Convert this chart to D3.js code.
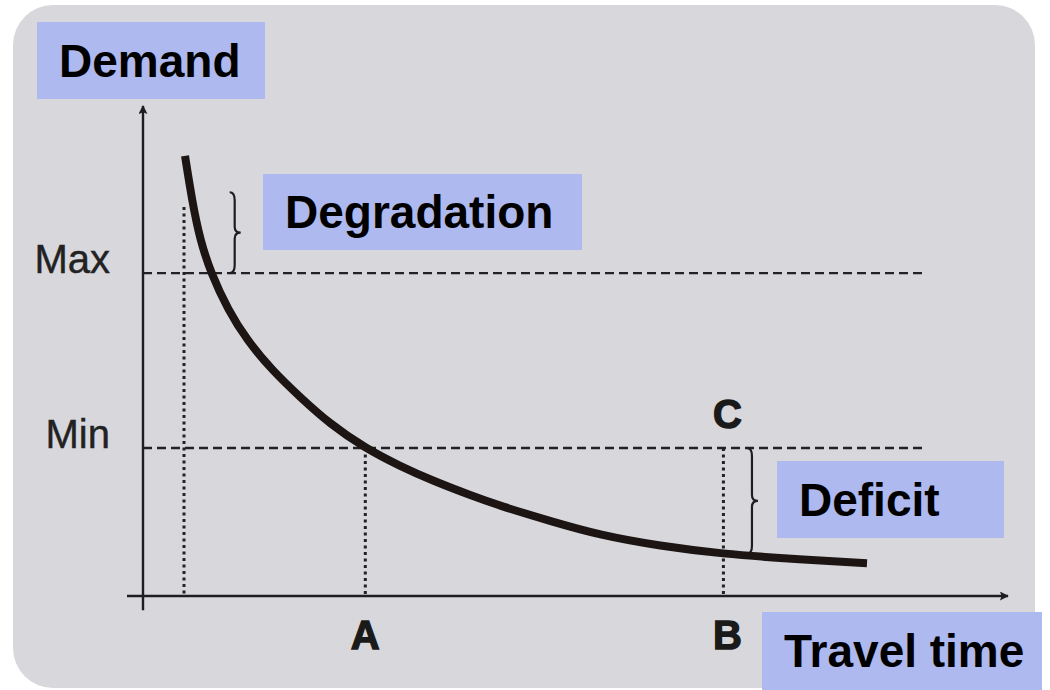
<!DOCTYPE html>
<html>
<head>
<meta charset="utf-8">
<script src="https://cdn.jsdelivr.net/npm/d3@7"></script>
<style>
  html, body { margin: 0; padding: 0; background: #ffffff; }
  svg { display: block; }
</style>
</head>
<body>
<svg id="chart" width="1050" height="690"></svg>
<script>
// ---- data (x: travel time units 0..100, y: demand units 0..100) ----
const curveX = [4.86, 5.66, 6.59, 7.86, 9.83, 12.03, 14.91, 18.15, 21.62, 25.66, 29.71, 33.53, 37.80, 41.27, 47.05, 52.83, 59.77, 66.94, 74.80, 83.70];
const curveY = [89.8, 80.8, 72.7, 65.9, 58.4, 52.2, 46.1, 40.6, 35.1, 30.2, 26.5, 23.5, 20.6, 18.4, 15.3, 12.4, 10.2, 8.6, 7.6, 6.7];
const levelNames = ["Max", "Min"];
const levelValues = [65.9, 30.2];
const pointNames = ["A", "B"];
const pointX = [25.7, 67.1];
const leftDottedX = 4.74;
const leftDottedTop = 79.4;
const dashEndX = 90.6;
const degradationBrace = [10.6, 82.4, 65.9];  // x, top, bottom
const deficitBrace = [70.4, 30.2, 8.6];       // x, top, bottom
const pointC = [67.1, 30.2];
const boxLabels = ["Demand", "Degradation", "Deficit", "Travel time"];

const svg = d3.select("#chart");

// background panel
svg.append("rect")
  .attr("x", 13).attr("y", 5).attr("width", 1022).attr("height", 683)
  .attr("rx", 40).attr("ry", 40)
  .attr("fill", "#d8d8dc");

const x = d3.scaleLinear().domain([0, 100]).range([143, 1008]);
const y = d3.scaleLinear().domain([0, 100]).range([596, 106]);

const ink = "#1e1e22";

// arrow markers
const defs = svg.append("defs");
defs.append("marker")
  .attr("id", "arrow").attr("viewBox", "0 0 10 10")
  .attr("refX", 9).attr("refY", 5)
  .attr("markerWidth", 14).attr("markerHeight", 9)
  .attr("markerUnits", "userSpaceOnUse")
  .attr("orient", "auto")
  .append("path").attr("d", "M0,0 L10,5 L0,10 L2,5 Z").attr("fill", ink);

// axes
svg.append("line")
  .attr("x1", x(-1.85)).attr("y1", y(0)).attr("x2", x(100)).attr("y2", y(0))
  .attr("stroke", ink).attr("stroke-width", 2.4)
  .attr("marker-end", "url(#arrow)");
svg.append("line")
  .attr("x1", x(0)).attr("y1", y(-2.9)).attr("x2", x(0)).attr("y2", y(100))
  .attr("stroke", ink).attr("stroke-width", 2.4)
  .attr("marker-end", "url(#arrow)");

// dashed horizontal level lines
levelValues.forEach((v, i) => {
  svg.append("line")
    .attr("x1", x(0)).attr("y1", y(v)).attr("x2", x(dashEndX)).attr("y2", y(v))
    .attr("stroke", "#222226").attr("stroke-width", 2.4)
    .attr("stroke-dasharray", "9,5");
  svg.append("text")
    .attr("x", 110).attr("y", y(v))
    .attr("text-anchor", "end")
    .attr("font-family", "Liberation Sans, Arial, sans-serif")
    .attr("font-size", 40)
    .attr("fill", "#222")
    .attr("stroke", "#222").attr("stroke-width", 0.4)
    .text(levelNames[i]);
});

// dotted verticals
const dotted = (xv, top) => svg.append("line")
  .attr("x1", x(xv)).attr("y1", y(top)).attr("x2", x(xv)).attr("y2", y(0))
  .attr("stroke", "#222226").attr("stroke-width", 3)
  .attr("stroke-dasharray", "3,3.5");
dotted(leftDottedX, leftDottedTop);
pointX.forEach(px => dotted(px, levelValues[1]));

// point labels A, B
pointX.forEach((px, i) => {
  svg.append("text")
    .attr("x", x(px) + (i === 1 ? 4 : 0)).attr("y", 649)
    .attr("text-anchor", "middle")
    .attr("font-family", "Liberation Sans, Arial, sans-serif")
    .attr("font-weight", 900)
    .attr("font-size", 40)
    .attr("fill", "#1a1a1a")
    .attr("stroke", "#1a1a1a").attr("stroke-width", 1.4)
    .text(pointNames[i]);
});
svg.append("text")
  .attr("x", x(pointC[0]) + 4).attr("y", y(pointC[1]) - 20)
  .attr("text-anchor", "middle")
  .attr("font-family", "Liberation Sans, Arial, sans-serif")
  .attr("font-weight", 900)
  .attr("font-size", 40)
  .attr("fill", "#1a1a1a")
  .attr("stroke", "#1a1a1a").attr("stroke-width", 1.4)
  .text("C");

// braces
function brace(xv, top, bottom) {
  const bx = x(xv), y1 = y(top), y2 = y(bottom);
  const ym = (y1 + y2) / 2;
  const w = 6;
  const d = `M${bx - 5},${y1} Q${bx},${y1} ${bx},${y1 + 8}` +
            ` L${bx},${ym - 6} Q${bx},${ym} ${bx + w},${ym}` +
            ` Q${bx},${ym} ${bx},${ym + 6}` +
            ` L${bx},${y2 - 8} Q${bx},${y2} ${bx - 5},${y2}`;
  svg.append("path").attr("d", d)
    .attr("fill", "none").attr("stroke", "#1e1e22").attr("stroke-width", 2.2);
}
brace(...degradationBrace);
brace(...deficitBrace);

// demand curve
const line = d3.line()
  .x(d => x(d[0])).y(d => y(d[1]))
  .curve(d3.curveBasis);
svg.append("path")
  .datum(curveX.map((v, i) => [v, curveY[i]]))
  .attr("d", line)
  .attr("fill", "none")
  .attr("stroke", "#1c1513")
  .attr("stroke-width", 8)
  .attr("stroke-linecap", "butt");

// label boxes (annotation layout)
const boxes = [
  {x: 37, y: 22, w: 228, h: 77},
  {x: 263, y: 174, w: 319, h: 76},
  {x: 777, y: 461, w: 227, h: 77},
  {x: 762, y: 612, w: 280, h: 78}
];
boxes.forEach((b, i) => {
  svg.append("rect")
    .attr("x", b.x).attr("y", b.y).attr("width", b.w).attr("height", b.h)
    .attr("fill", "#adb9ef");
  svg.append("text")
    .attr("x", b.x + 22).attr("y", b.y + b.h / 2 + 16)
    .attr("font-family", "Liberation Sans, Arial, sans-serif")
    .attr("font-weight", "bold")
    .attr("font-size", 46)
    .attr("fill", "#000")
    .text(boxLabels[i]);
});
</script>
</body>
</html>
